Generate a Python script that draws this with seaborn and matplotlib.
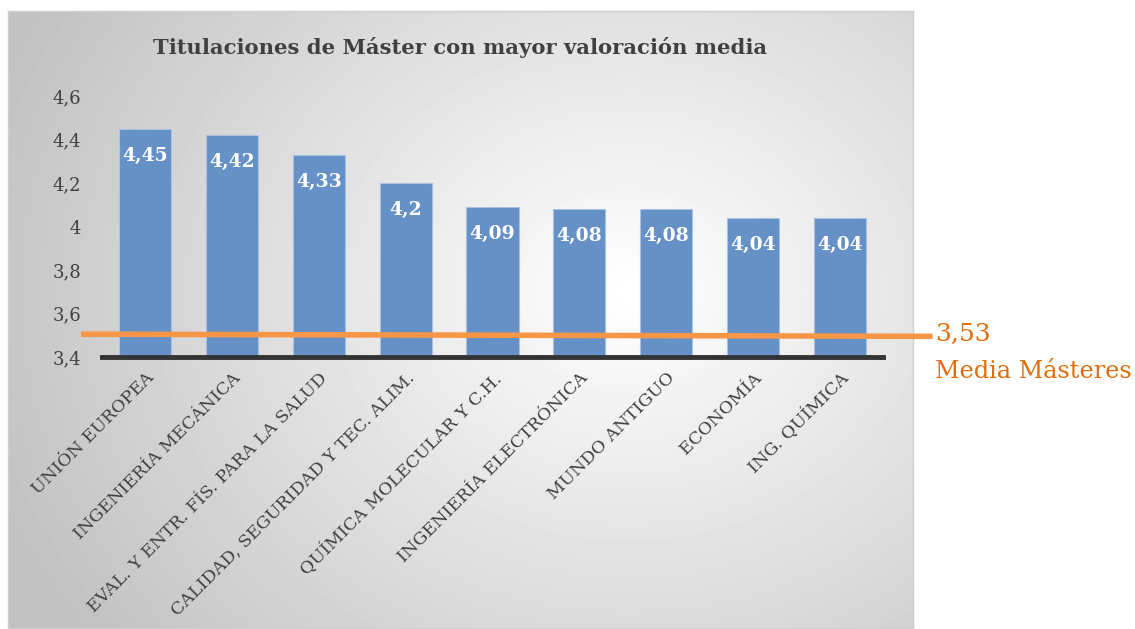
import numpy as np
import matplotlib
matplotlib.use("Agg")
import matplotlib.pyplot as plt
import seaborn as sns

# =================== Datos ===================
categorias = ["UNIÓN EUROPEA", "INGENIERÍA MECÁNICA", "EVAL. Y ENTR. FÍS. PARA LA SALUD",
              "CALIDAD, SEGURIDAD Y TEC. ALIM.", "QUÍMICA MOLECULAR Y C.H.",
              "INGENIERÍA ELECTRÓNICA", "MUNDO ANTIGUO", "ECONOMÍA", "ING. QUÍMICA"]
valores = [4.45, 4.42, 4.33, 4.2, 4.09, 4.08, 4.08, 4.04, 4.04]
etiquetas = ["4,45", "4,42", "4,33", "4,2", "4,09", "4,08", "4,08", "4,04", "4,04"]
yticks = [3.4, 3.6, 3.8, 4.0, 4.2, 4.4, 4.6]
ytick_labels = ["3,4", "3,6", "3,8", "4", "4,2", "4,4", "4,6"]
media_linea = [3.505, 3.495]   # como se ve dibujada (izq -> der)
media_valor = "3,53"
media_nombre = "Media Másteres"

W, H = 1135, 629
sns.set_theme(style="white")
plt.rcParams["font.family"] = ["DejaVu Serif"]

fig = plt.figure(figsize=(W / 100, H / 100), dpi=100)
fig.patch.set_facecolor("white")

# =================== Fondo con degradado radial ===================
bg = fig.add_axes([8 / W, 1 / H, 905 / W, 617 / H])
yy, xx = np.mgrid[0:617, 0:905]
d = np.sqrt(((xx - 620) / 620) ** 2 + ((yy - 280) / 520) ** 2)
g = np.clip(1.0 - 0.22 * d, 0.76, 1.0)
bg.imshow(g, cmap="gray", vmin=0, vmax=1, aspect="auto", interpolation="bilinear")
bg.set_xticks([])
bg.set_yticks([])
for s in bg.spines.values():
    s.set_color("#cfcfcf")
    s.set_linewidth(1)

# =================== Barras ===================
ax = fig.add_axes([102 / W, 272 / H, 781 / W, 261 / H])
ax.patch.set_alpha(0)
sns.barplot(x=categorias, y=valores, color="#6591C7", width=0.6, ax=ax,
            edgecolor="#a9c2e3", linewidth=0.8, saturation=1)
ax.set_ylim(3.4, 4.6)
ax.set_xlim(-0.5, len(categorias) - 0.5)
ax.set_yticks(yticks)
ax.set_yticklabels(ytick_labels, fontsize=13, color="#404040")
ax.set_xticks(range(len(categorias)))
ax.set_xticklabels(categorias, rotation=45, ha="right", rotation_mode="anchor",
                   fontsize=12.6, color="#404040")
ax.tick_params(axis="y", length=0, pad=15)
ax.tick_params(axis="x", length=0, pad=9)
for s in ["top", "right", "left"]:
    ax.spines[s].set_visible(False)
ax.spines["bottom"].set_color("#333333")
ax.spines["bottom"].set_linewidth(3.5)
ax.set_xlabel("")
ax.set_ylabel("")

for i, (v, t) in enumerate(zip(valores, etiquetas)):
    ax.text(i, v - 0.125, t, ha="center", va="center", color="white",
            fontsize=13.5, fontweight="bold", zorder=5)

# línea de media (se sale del eje por ambos lados)
ax.plot([-0.74, 9.07], media_linea, color="#F79646", linewidth=4,
        solid_capstyle="butt", clip_on=False, zorder=6)

fig.text(460 / W, 1 - 47 / H, "Titulaciones de Máster con mayor valoración media",
         ha="center", va="center", fontsize=15.2, fontweight="bold", color="#404040")
fig.text(935 / W, 1 - 334 / H, media_valor, ha="left", va="center",
         fontsize=18, color="#E36C0A")
fig.text(935 / W, 1 - 371 / H, media_nombre, ha="left", va="center",
         fontsize=17.2, color="#E36C0A")

fig.savefig("out.png", dpi=100)
